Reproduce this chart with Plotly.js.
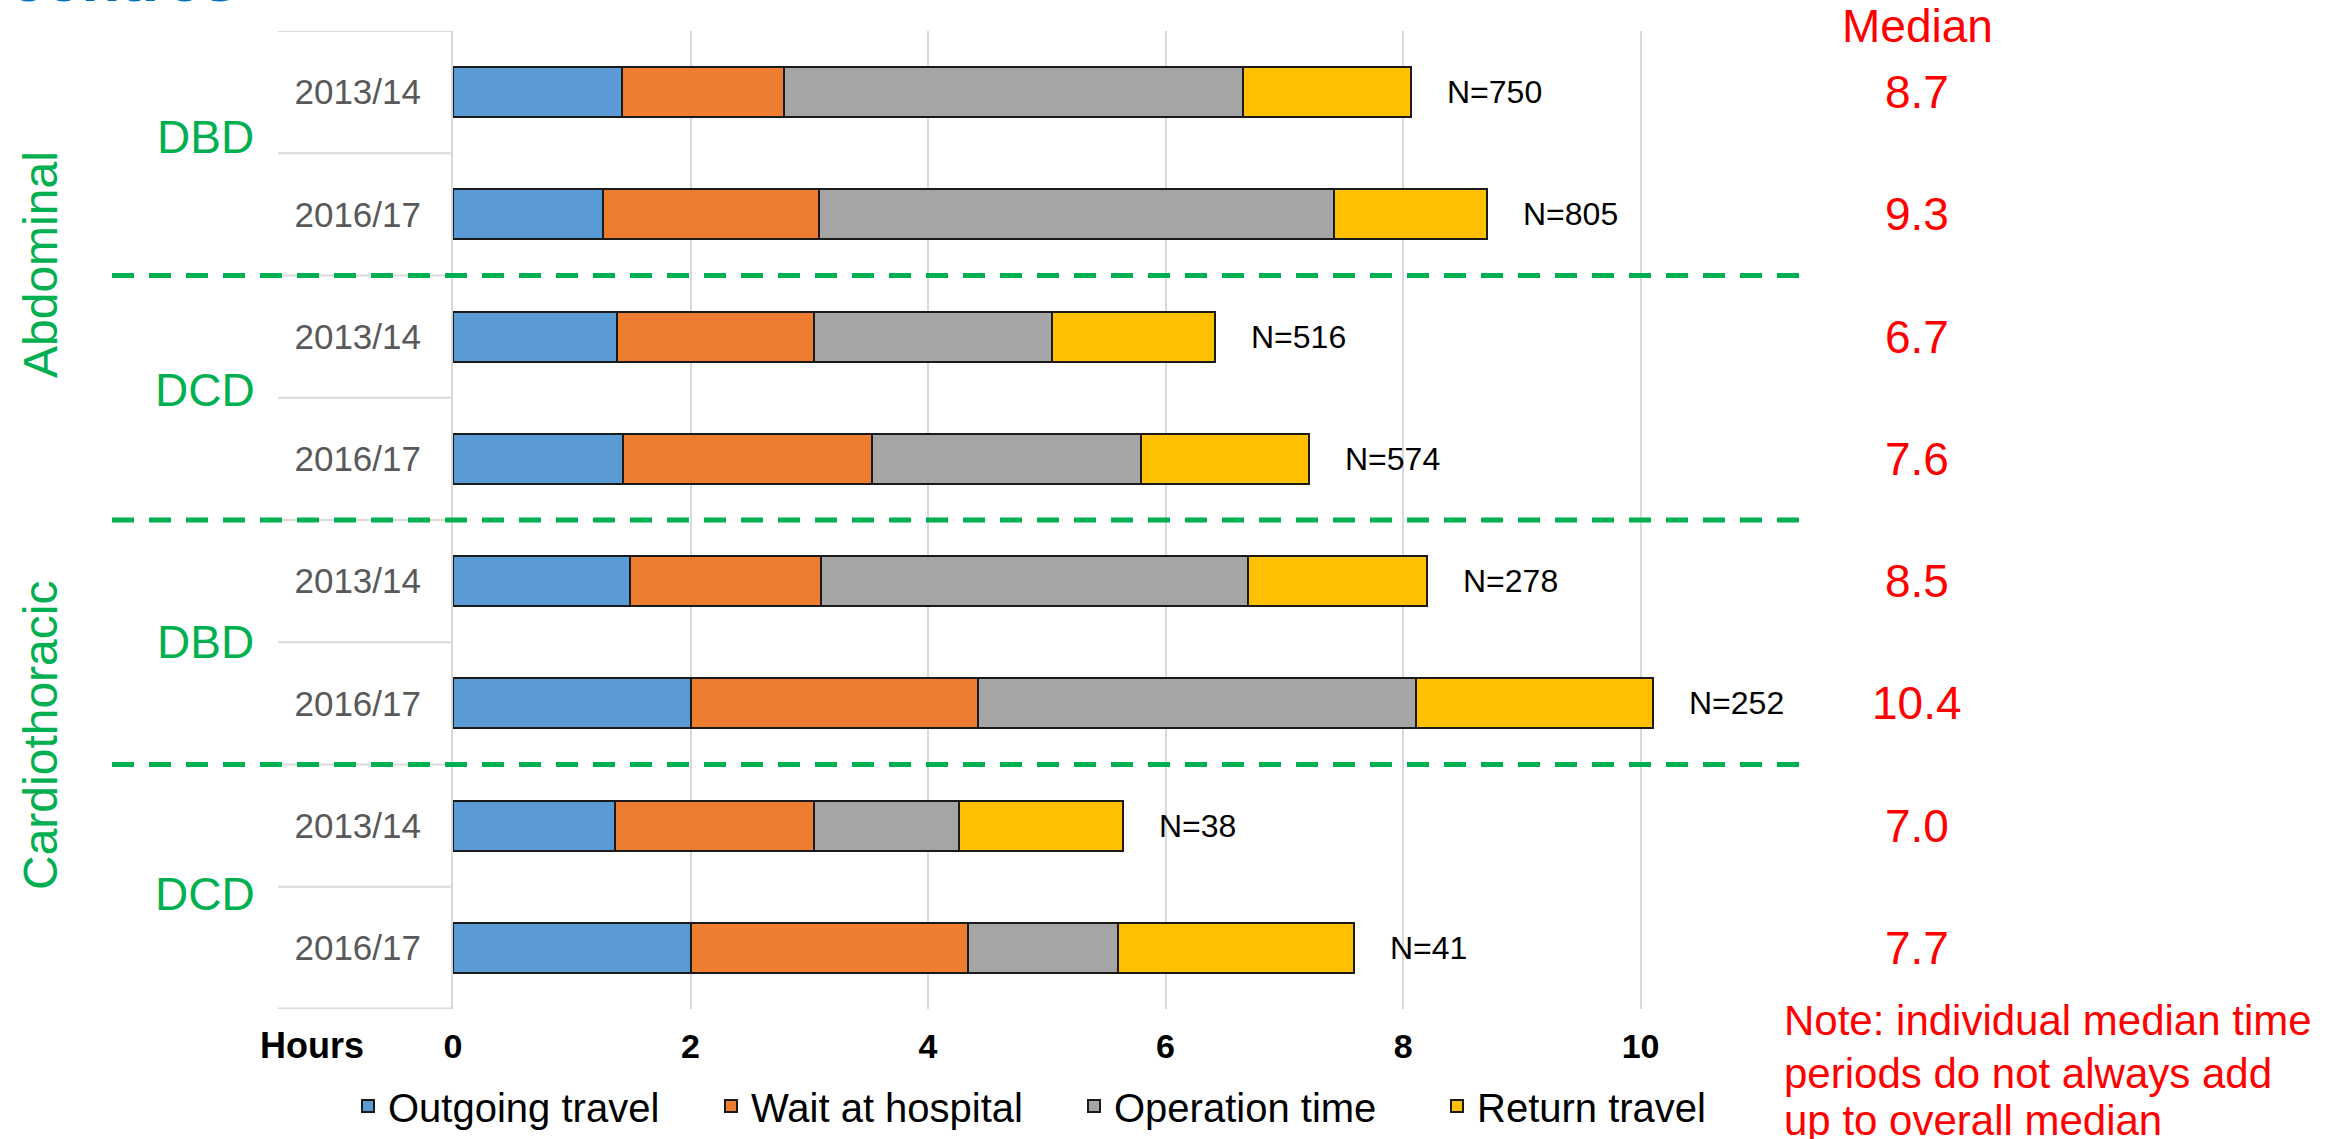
<!DOCTYPE html>
<html>
<head>
<meta charset="utf-8">
<script src="https://cdn.plot.ly/plotly-3.0.1.min.js"></script>
<style>
  html, body { margin: 0; padding: 0; background: #ffffff; }
  #chart { width: 2342px; height: 1139px; }
</style>
</head>
<body>
<div id="chart"></div>
<script>
// ---------------- data ----------------
const organs     = ['Abdominal', 'Abdominal', 'Abdominal', 'Abdominal', 'Cardiothoracic', 'Cardiothoracic', 'Cardiothoracic', 'Cardiothoracic'];
const donorTypes = ['DBD', 'DBD', 'DCD', 'DCD', 'DBD', 'DBD', 'DCD', 'DCD'];
const periods    = ['2013/14', '2016/17', '2013/14', '2016/17', '2013/14', '2016/17', '2013/14', '2016/17'];

const outgoingTravel = [1.42, 1.26, 1.38, 1.43, 1.49, 2.00, 1.36, 2.00];
const waitAtHospital = [1.37, 1.82, 1.66, 2.10, 1.61, 2.42, 1.68, 2.34];
const operationTime  = [3.86, 4.34, 2.00, 2.26, 3.59, 3.69, 1.22, 1.26];
const returnTravel   = [1.42, 1.29, 1.38, 1.42, 1.51, 1.99, 1.38, 1.99];

const nDonors = [750, 805, 516, 574, 278, 252, 38, 41];
const medians = ['8.7', '9.3', '6.7', '7.6', '8.5', '10.4', '7.0', '7.7'];

const seriesNames  = ['Outgoing travel', 'Wait at hospital', 'Operation time', 'Return travel'];
const seriesColors = ['#5B9BD5', '#ED7D31', '#A5A5A5', '#FFC000'];
const tickHours    = [0, 2, 4, 6, 8, 10];

const noteLines  = ['Note: individual median time', 'periods do not always add', 'up to overall median'];
const titleText  = 'centres';

// ---------------- geometry helpers ----------------
const W = 2342, H = 1139;
const px = v => v / W;          // pixel x -> paper
const py = v => 1 - v / H;      // pixel y -> paper
const FONT = 'Liberation Sans, Arial, sans-serif';
const GREEN = '#00B050';
const RED = '#FF0000';

const rows = periods.map((_, i) => i);
const seriesValues = [outgoingTravel, waitAtHospital, operationTime, returnTravel];

const traces = seriesValues.map((vals, k) => ({
  type: 'bar',
  orientation: 'h',
  name: seriesNames[k],
  x: vals,
  y: rows,
  width: 0.41,
  marker: { color: seriesColors[k], line: { color: '#1a1a1a', width: 2 } },
  hoverinfo: 'x+name'
}));

const totals = rows.map(i => seriesValues.reduce((s, arr) => s + arr[i], 0));

const annotations = [];

// N labels at bar ends
rows.forEach(i => {
  annotations.push({
    xref: 'x', yref: 'y', x: totals[i], y: i,
    xanchor: 'left', yanchor: 'middle', xshift: 34,
    text: 'N=' + nDonors[i], showarrow: false,
    font: { family: FONT, size: 32, color: '#000000' }
  });
});

// Median column
annotations.push({
  xref: 'paper', yref: 'paper', x: px(1917), y: py(26),
  xanchor: 'center', yanchor: 'middle', text: 'Median', showarrow: false,
  font: { family: FONT, size: 46, color: RED }
});
rows.forEach(i => {
  annotations.push({
    xref: 'paper', yref: 'y', x: px(1917), y: i,
    xanchor: 'center', yanchor: 'middle', text: medians[i], showarrow: false,
    font: { family: FONT, size: 46, color: RED }
  });
});

// donor type labels (one per pair of rows)
const donorLabelY = [137, 390, 642, 894];
for (let g = 0; g < 4; g++) {
  annotations.push({
    xref: 'paper', yref: 'paper', x: px(205), y: py(donorLabelY[g]),
    xanchor: 'center', yanchor: 'middle', text: donorTypes[g * 2], showarrow: false,
    font: { family: FONT, size: 46, color: GREEN }
  });
}

// organ labels (rotated)
const organLabelY = [265, 736];
[0, 4].forEach((start, g) => {
  annotations.push({
    xref: 'paper', yref: 'paper', x: px(40), y: py(organLabelY[g]),
    xanchor: 'center', yanchor: 'middle', text: organs[start], textangle: -90, showarrow: false,
    font: { family: FONT, size: 48, color: GREEN }
  });
});

// axis title "Hours"
annotations.push({
  xref: 'paper', yref: 'paper', x: px(366), y: py(1045),
  xanchor: 'right', yanchor: 'middle', text: 'Hours', showarrow: false,
  font: { family: FONT, size: 36, color: '#000000', weight: 'bold' }
});

// note
const noteY = [1020, 1073, 1120];
noteLines.forEach((t, j) => {
  annotations.push({
    xref: 'paper', yref: 'paper', x: px(1782), y: py(noteY[j]),
    xanchor: 'left', yanchor: 'middle', text: t, showarrow: false,
    font: { family: FONT, size: 42, color: RED }
  });
});

// cropped slide title at top edge
annotations.push({
  xref: 'paper', yref: 'paper', x: px(240), y: py(4),
  xanchor: 'right', yanchor: 'bottom', yshift: -13, text: titleText, showarrow: false,
  font: { family: FONT, size: 64, color: '#0070C0', weight: 'bold' }
});

// ---------------- shapes ----------------
const shapes = [];
// category axis dividers
for (let b = 0; b <= rows.length; b++) {
  shapes.push({
    type: 'line', xref: 'paper', yref: 'y',
    x0: px(278), x1: px(452), y0: b - 0.5, y1: b - 0.5,
    line: { color: '#D9D9D9', width: b === rows.length ? 3 : 2 }
  });
}
// green dashed group separators
[1.5, 3.5, 5.5].forEach(yb => {
  shapes.push({
    type: 'line', xref: 'paper', yref: 'y',
    x0: px(112), x1: px(1813), y0: yb, y1: yb,
    line: { color: GREEN, width: 5, dash: '22px,15px' }
  });
});

const layout = {
  width: W, height: H,
  margin: { l: 0, r: 0, t: 0, b: 0 },
  paper_bgcolor: '#ffffff',
  plot_bgcolor: '#ffffff',
  barmode: 'stack',
  bargap: 0.59,
  font: { family: FONT },
  xaxis: {
    domain: [px(453), px(1700)],
    range: [0, 10.5],
    tickvals: tickHours,
    ticktext: tickHours.map(String),
    showgrid: true, gridcolor: '#D9D9D9', gridwidth: 2,
    zeroline: false, showline: false, ticks: '',
    ticklabelstandoff: 14,
    tickfont: { family: FONT, size: 34, color: '#000000', weight: 'bold' },
    fixedrange: true
  },
  yaxis: {
    domain: [py(1009), py(31)],
    range: [7.5, -0.5],
    tickvals: rows,
    ticktext: periods,
    showgrid: false, zeroline: false,
    showline: true, linecolor: '#D9D9D9', linewidth: 2,
    ticks: '', ticklabelstandoff: 23,
    tickfont: { family: FONT, size: 35, color: '#595959' },
    fixedrange: true
  },
  showlegend: true,
  legend: {
    orientation: 'h',
    x: px(348), xanchor: 'left',
    y: py(1106), yanchor: 'middle',
    font: { family: FONT, size: 40, color: '#000000' },
    entrywidth: 318,
    traceorder: 'normal',
    bgcolor: 'rgba(0,0,0,0)'
  },
  annotations: annotations,
  shapes: shapes
};

Plotly.newPlot('chart', traces, layout, { displayModeBar: false, staticPlot: true });
</script>
</body>
</html>
